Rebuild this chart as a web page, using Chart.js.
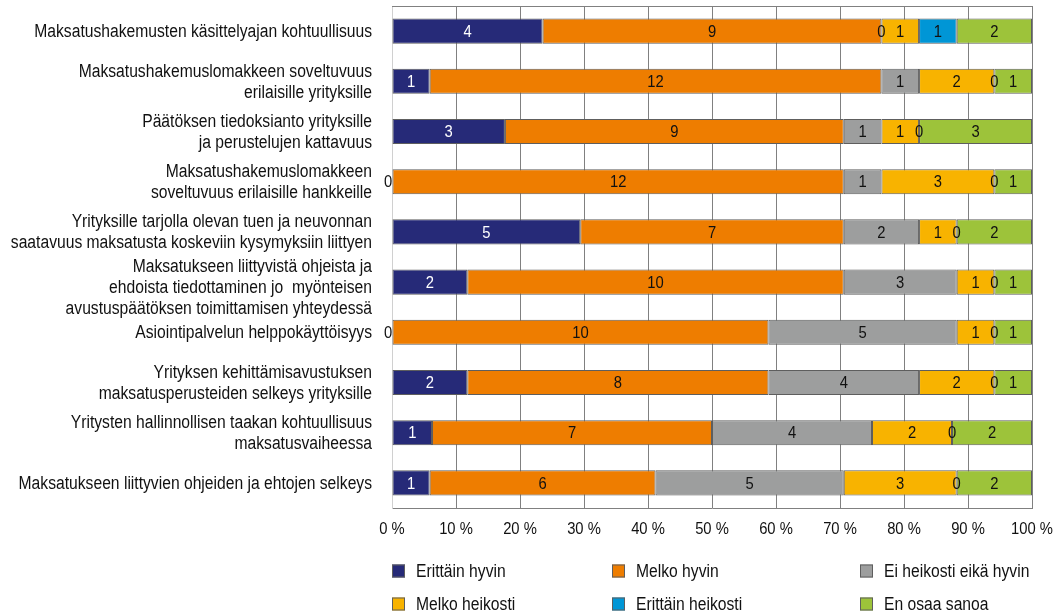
<!DOCTYPE html>
<html>
<head>
<meta charset="utf-8">
<script src="https://cdn.jsdelivr.net/npm/chart.js@4"></script>
<style>
  html, body { margin: 0; padding: 0; background: #fff; }
  #wrap { width: 1059px; height: 616px; position: relative; }
</style>
</head>
<body>
<div id="wrap"><canvas id="chart1"></canvas></div>
<script>
const categories = [
  'Maksatushakemusten käsittelyajan kohtuullisuus',
  ['Maksatushakemuslomakkeen soveltuvuus', 'erilaisille yrityksille'],
  ['Päätöksen tiedoksianto yrityksille', 'ja perustelujen kattavuus'],
  ['Maksatushakemuslomakkeen', 'soveltuvuus erilaisille hankkeille'],
  ['Yrityksille tarjolla olevan tuen ja neuvonnan', 'saatavuus maksatusta koskeviin kysymyksiin liittyen'],
  ['Maksatukseen liittyvistä ohjeista ja', 'ehdoista tiedottaminen jo  myönteisen', 'avustuspäätöksen toimittamisen yhteydessä'],
  'Asiointipalvelun helppokäyttöisyys',
  ['Yrityksen kehittämisavustuksen', 'maksatusperusteiden selkeys yrityksille'],
  ['Yritysten hallinnollisen taakan kohtuullisuus', 'maksatusvaiheessa'],
  'Maksatukseen liittyvien ohjeiden ja ehtojen selkeys'
]

const seriesNames = ['Erittäin hyvin', 'Melko hyvin', 'Ei heikosti eikä hyvin', 'Melko heikosti', 'Erittäin heikosti', 'En osaa sanoa']

const erittainHyvin = [4, 1, 3, 0, 5, 2, 0, 2, 1, 1]
const melkoHyvin = [9, 12, 9, 12, 7, 10, 10, 8, 7, 6]
const eiHeikostiEikaHyvin = [0, 1, 1, 1, 2, 3, 5, 4, 4, 5]
const melkoHeikosti = [1, 2, 1, 3, 1, 1, 1, 2, 2, 3]
const erittainHeikosti = [1, 0, 0, 0, 0, 0, 0, 0, 0, 0]
const enOsaaSanoa = [2, 1, 3, 1, 2, 1, 1, 1, 2, 2]

const xTicks = [0, 10, 20, 30, 40, 50, 60, 70, 80, 90, 100]

const colors = ['#262a78', '#ee7d00', '#9d9e9e', '#f8b300', '#0096d6', '#9dc33a']

const FONT = '"Liberation Sans", Arial, sans-serif'
const NARROW = 0.87 // squeeze to look like the condensed face of the original

const counts = [erittainHyvin, melkoHyvin, eiHeikostiEikaHyvin, melkoHeikosti, erittainHeikosti, enOsaaSanoa]
const totals = categories.map((c, i) => counts.reduce((s, arr) => s + arr[i], 0))

// 100 % stacked: percentages for the bars, raw counts kept for the labels
const datasets = counts.map((arr, k) => ({
  label: seriesNames[k],
  data: arr.map((v, i) => v / totals[i] * 100),
  raw: arr,
  backgroundColor: colors[k],
  borderColor: '#5e5e5e',
  borderWidth: 1,
  borderSkipped: false,
  categoryPercentage: 1,
  barPercentage: 0.5
}))

function narrowText(ctx, text, x, y, align) {
  ctx.save()
  ctx.translate(x, y)
  ctx.scale(NARROW, 1)
  ctx.textAlign = align
  ctx.textBaseline = 'middle'
  ctx.fillText(text, 0, 0)
  ctx.restore()
}

const axisLabels = {
  id: 'axisLabels',
  afterDraw(chart) {
    const ctx = chart.ctx
    const xs = chart.scales.x
    const ys = chart.scales.y
    ctx.save()
    ctx.fillStyle = '#111111'
    ctx.font = '18px ' + FONT
    chart.data.labels.forEach((lab, i) => {
      const lines = Array.isArray(lab) ? lab : [lab]
      const cy = ys.getPixelForValue(i) + (lines.length > 2 ? 5 : 0)
      const lh = 21
      lines.forEach((line, j) => {
        narrowText(ctx, line, chart.chartArea.left - 20, cy + (j - (lines.length - 1) / 2) * lh + 1, 'right')
      })
    })
    ctx.font = '17px ' + FONT
    xTicks.forEach(v => {
      narrowText(ctx, v + ' %', xs.getPixelForValue(v), chart.chartArea.bottom + 21, 'center')
    })
    ctx.restore()
  }
}

const valueLabels = {
  id: 'valueLabels',
  afterDatasetsDraw(chart) {
    const ctx = chart.ctx
    ctx.save()
    ctx.font = '17px ' + FONT
    chart.data.datasets.forEach((ds, k) => {
      const meta = chart.getDatasetMeta(k)
      meta.data.forEach((bar, i) => {
        const v = ds.raw[i]
        let cx = (bar.x + bar.base) / 2
        if (k === 0 && v === 0) cx -= 4
        ctx.fillStyle = k === 0 && v > 0 ? '#ffffff' : '#111111'
        narrowText(ctx, String(v), cx, bar.y + 1, 'center')
      })
    })
    ctx.restore()
  }
}

const frame = {
  id: 'frame',
  beforeDatasetsDraw(chart) {
    const { ctx, chartArea } = chart
    ctx.save()
    ctx.strokeStyle = '#808080'
    ctx.lineWidth = 1
    ctx.beginPath()
    ctx.moveTo(chartArea.left, chartArea.top + 0.5)
    ctx.lineTo(chartArea.right, chartArea.top + 0.5)
    ctx.stroke()
    ctx.restore()
  }
}

const gridLegend = {
  id: 'gridLegend',
  afterDraw(chart) {
    const ctx = chart.ctx
    const colX = [392, 612, 860]
    const rowY = [571, 604]
    ctx.save()
    ctx.font = '18px ' + FONT
    chart.data.datasets.forEach((ds, k) => {
      const x = colX[k % 3]
      const y = rowY[Math.floor(k / 3)]
      ctx.fillStyle = ds.backgroundColor
      ctx.fillRect(x, y - 6.5, 13, 13)
      ctx.strokeStyle = '#5e5e5e'
      ctx.lineWidth = 1
      ctx.strokeRect(x + 0.5, y - 6, 12, 12)
      ctx.fillStyle = '#111111'
      narrowText(ctx, ds.label, x + 24, y + 1, 'left')
    })
    ctx.restore()
  }
}

new Chart('chart1', {
  type: 'bar',
  data: { labels: categories, datasets },
  options: {
    indexAxis: 'y',
    responsive: true,
    maintainAspectRatio: false,
    animation: false,
    layout: { padding: { top: 6, right: 27, bottom: 0, left: 0 } },
    plugins: {
      legend: { display: false },
      tooltip: { enabled: false }
    },
    scales: {
      x: {
        stacked: true,
        min: 0,
        max: 100,
        afterBuildTicks: scale => { scale.ticks = xTicks.map(v => ({ value: v })) },
        afterFit: scale => { scale.height = 108 },
        grid: { color: '#808080', lineWidth: 1, drawTicks: false },
        border: { color: '#808080' },
        ticks: { display: false }
      },
      y: {
        stacked: true,
        afterFit: scale => { scale.width = 392 },
        grid: { display: false, drawTicks: false },
        border: { color: '#d0d0d0' },
        ticks: { display: false }
      }
    }
  },
  plugins: [frame, valueLabels, axisLabels, gridLegend]
})
</script>
</body>
</html>
